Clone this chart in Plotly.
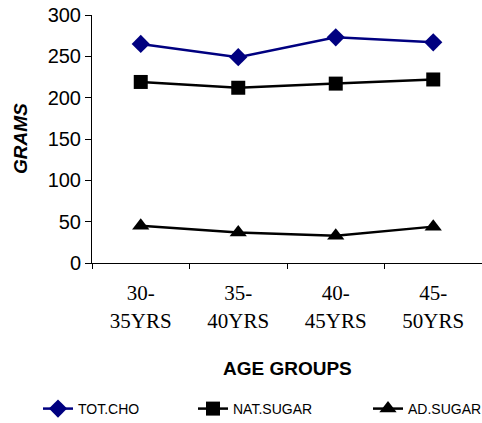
import plotly.graph_objects as go

categories = ["30-<br>35YRS", "35-<br>40YRS", "40-<br>45YRS", "45-<br>50YRS"]
tot_cho = [265, 249, 273, 267]
nat_sugar = [219, 212, 217, 222]
ad_sugar = [45, 37, 33, 44]
y_ticks = [0, 50, 100, 150, 200, 250, 300]

W, H = 482, 423

fig = go.Figure()
fig.add_trace(go.Scatter(x=categories, y=tot_cho, name="TOT.CHO", mode="lines+markers",
                         line=dict(color="#000080", width=2.5), legend="legend",
                         marker=dict(symbol="diamond", size=14, color="#000080")))
fig.add_trace(go.Scatter(x=categories, y=nat_sugar, name="NAT.SUGAR", mode="lines+markers",
                         line=dict(color="#000000", width=2.5), legend="legend2",
                         marker=dict(symbol="square", size=14, color="#000000")))
fig.add_trace(go.Scatter(x=categories, y=ad_sugar, name="AD.SUGAR", mode="lines+markers",
                         line=dict(color="#000000", width=2.5), legend="legend3",
                         marker=dict(symbol="triangle-up", size=15, color="#000000")))

legend_common = dict(orientation="h", xref="container", xanchor="left",
                     y=14 / H, yanchor="middle", yref="container",
                     font=dict(size=14, family="Arial, Liberation Sans"), itemwidth=30)

fig.update_layout(
    width=W, height=H,
    margin=dict(l=92, r=0, t=15, b=160, autoexpand=False),
    plot_bgcolor="white", paper_bgcolor="white",
    font=dict(family="Arial, Liberation Sans", color="black"),
    showlegend=True,
    legend=dict(x=38 / W, **legend_common),
    legend2=dict(x=193 / W, **legend_common),
    legend3=dict(x=368 / W, **legend_common),
    xaxis=dict(type="category", range=[-0.5, 3.5], showline=True, linecolor="black", linewidth=1,
               ticks="outside", tickson="boundaries", ticklen=5, tickcolor="black",
               showgrid=False, zeroline=False, automargin=False,
               tickfont=dict(family="Times New Roman, Liberation Serif", size=21),
               ticklabelstandoff=11),
    yaxis=dict(range=[0, 300], tickvals=y_ticks, showline=True, linecolor="black", linewidth=1,
               ticks="outside", ticklen=6, tickcolor="black", showgrid=False, zeroline=False,
               automargin=False, tickfont=dict(size=20), ticklabeloverflow="allow"),
    annotations=[
        dict(text="<b>AGE GROUPS</b>", xref="paper", yref="paper", x=0.5,
             y=(263 - 368) / 248, xanchor="center", yanchor="middle", showarrow=False,
             font=dict(size=19)),
        dict(text="<b><i>GRAMS</i></b>", xref="paper", yref="paper", x=(20 - 92) / 390,
             y=0.5, xanchor="center", yanchor="middle", showarrow=False, textangle=-90,
             font=dict(size=19)),
    ],
)
# Remove the default 8px body margin so the figure fills the window exactly.
fig.write_html("out.html", config={"displayModeBar": False},
               post_script="document.body.style.margin='0';")
